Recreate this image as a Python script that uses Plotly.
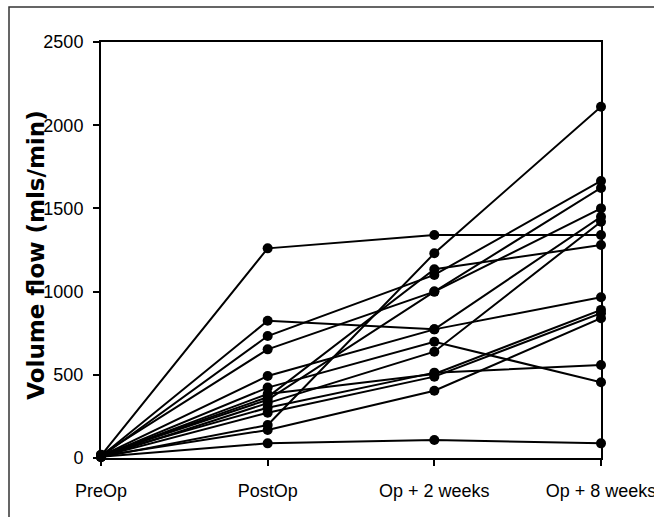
import plotly.graph_objects as go

categories = ["PreOp", "PostOp", "Op + 2 weeks", "Op + 8 weeks"]

# one value per patient at each time point (mls/min)
pre_op = [15, 10, 12, 8, 18, 5, 14, 10, 6, 20, 9, 12, 7, 16, 11]
post_op = [1260, 825, 493, 733, 653, 198, 366, 423, 330, 302, 272, 168, 88, 350, 385]
op_2_weeks = [1340, 773, 773, 1100, 1000, 1230, 1134, 699, 639, 513, 489, 404, 108, 1000, 505]
op_8_weeks = [1340, 966, 1450, 1665, 1623, 2111, 1280, 455, 1420, 559, 870, 840, 88, 1500, 890]

y_ticks = [0, 500, 1000, 1500, 2000, 2500]

fig = go.Figure()
for a, b, c, d in zip(pre_op, post_op, op_2_weeks, op_8_weeks):
    fig.add_trace(go.Scatter(
        x=categories, y=[a, b, c, d],
        mode="lines+markers",
        line=dict(color="black", width=2),
        marker=dict(color="black", size=10),
        cliponaxis=False,
        showlegend=False,
    ))

font = "Liberation Sans, Arial, sans-serif"
fig.update_layout(
    width=654, height=517,
    margin=dict(l=101, r=53, t=42, b=59),
    paper_bgcolor="white", plot_bgcolor="white",
    font=dict(family=font, size=18, color="black"),
    xaxis=dict(
        type="category", range=[0, 3], automargin=False,
        showgrid=False, zeroline=False,
        showline=True, linecolor="black", linewidth=2, mirror=True,
        ticks="outside", ticklen=6, tickwidth=1.5, tickcolor="black",
        ticklabelstandoff=9,
        tickfont=dict(size=18),
    ),
    yaxis=dict(
        range=[0, 2500], tickvals=y_ticks, automargin=False,
        showgrid=False, zeroline=False,
        showline=True, linecolor="black", linewidth=2, mirror=True,
        ticks="outside", ticklen=6, tickwidth=1.5, tickcolor="black",
        ticklabelstandoff=6,
        tickfont=dict(size=18),
    ),
    annotations=[dict(
        text="<b>Volume flow (mls/min)</b>",
        xref="paper", yref="paper", x=-0.13, y=0.486,
        xanchor="center", yanchor="middle",
        textangle=-90, showarrow=False,
        font=dict(family="DejaVu Sans, sans-serif", size=23, color="black"),
    )],
    shapes=[dict(
        type="rect", xref="paper", yref="paper",
        x0=-0.184, x1=1.2, y0=-0.2, y1=1.084,
        line=dict(color="#333333", width=1.5), layer="below",
    )],
)

fig.write_html(
    "out.html",
    config={"displayModeBar": False},
    post_script="document.body.style.margin='0px';document.body.style.overflow='hidden';",
)
